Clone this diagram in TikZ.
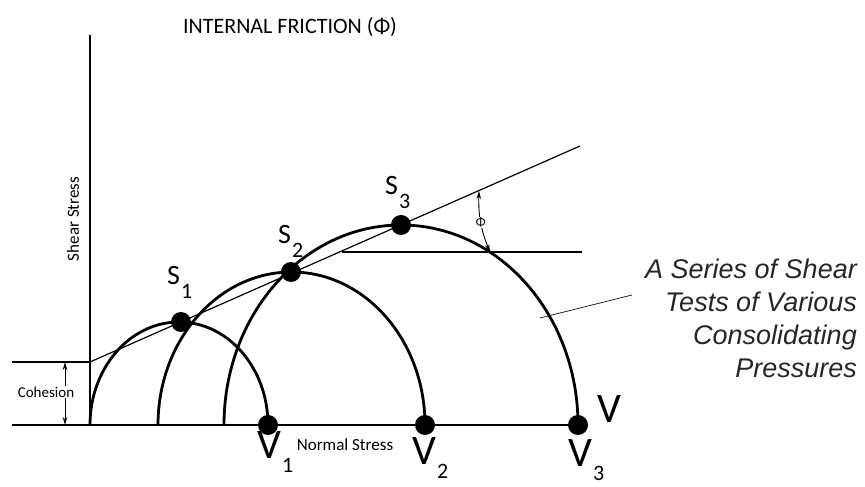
\documentclass[tikz,border=0pt]{standalone}
\usepackage{fontspec}
\setmainfont{Carlito}
\newfontfamily\notefont{Liberation Sans}
\usetikzlibrary{arrows.meta,calc}

\newcommand\sublbl[2]{#1\kern1pt\raisebox{-14pt}{\fontsize{22}{22}\selectfont #2}}

\tikzset{
    mohr/.style = {line width=2.8pt},
    axis/.style = {line width=1.1pt},
    dot/.style = {circle, fill, inner sep=0pt, minimum size=20pt},
    slbl/.style = {anchor=base west, inner sep=0pt, font=\fontsize{28}{28}\selectfont},
    vlbl/.style = {anchor=base west, inner sep=0pt, font=\fontsize{42}{42}\selectfont},
    small/.style = {inner sep=0.5pt, font=\fontsize{16}{16}\selectfont},
    dim/.style = {line width=0.9pt, {Stealth[length=8pt,width=4.5pt]}-{Stealth[length=8pt,width=4.5pt]}},
}

\begin{document}
\begin{tikzpicture}[x=1pt, y=1pt]
        \useasboundingbox (0,0) rectangle (865,487);
        \coordinate(O)at(90,62);
        \coordinate(T)at(90,452);
        \coordinate(L)at(12,62);
        \coordinate(E)at(580,62);
        \coordinate(C)at(90,125);
        \coordinate(CL)at(12,125);
        \coordinate(F)at(580,341);
        \coordinate(H1)at(342,235);
        \coordinate(H2)at(582,235);
        % axes
        \path[draw, axis](O)to(T);
        \path[draw, axis](L)to(E);
        \path[draw, axis](CL)to(C);
        % envelope
        \path[draw, line width=1.2pt](C)to(F);
        \path[draw, axis](H1)to(H2);
        % circles
        \draw[mohr] (268,62) arc[start angle=0, end angle=180, x radius=89, y radius=103];
        \draw[mohr] (425,62) arc[start angle=0, end angle=180, x radius=133.5, y radius=153];
        \draw[mohr] (578,62) arc[start angle=0, end angle=180, x radius=177, y radius=200];
        % dots
        \node[dot] (s1) at (181,165) {};
        \node[dot] (s2) at (291,215) {};
        \node[dot] (s3) at (401,262) {};
        \node[dot] (v1) at (268,62) {};
        \node[dot] (v2) at (425,62) {};
        \node[dot] (v3) at (578,62) {};
        \node[slbl] (s1l) at (167,202) {\sublbl{S}{1}};
        \node[slbl] (s2l) at (278,243) {\sublbl{S}{2}};
        \node[slbl] (s3l) at (385,292) {\sublbl{S}{3}};
        \node[vlbl] (v1l) at (257,28) {\sublbl{V}{1}};
        \node[vlbl] (v2l) at (412,22) {\sublbl{V}{2}};
        \node[vlbl] (v3l) at (568,20) {\sublbl{V}{3}};
        \node[vlbl] (vx) at (597,64) {V};
        % angle
        \coordinate(A1)at(479,296);
        \coordinate(A2)at(490,235);
        \path[draw, dim](A1)to[bend right=12]node[fill=white, inner sep=0.5pt, font=\fontsize{13}{13}\selectfont]{Φ}(A2);
        % cohesion
        \coordinate(K1)at(65,125);
        \coordinate(K2)at(65,62);
        \path[draw, dim](K1)to(K2);
        \node[small, fill=white, font=\fontsize{15}{15}\selectfont] (coh) at (46,95) {Cohesion};
        \node[small, font=\fontsize{17}{17}\selectfont] (nst) at (345,42) {Normal Stress};
        \node[small, rotate=90, font=\fontsize{17}{17}\selectfont] (sst) at (73,268) {Shear Stress};
        \node[font=\fontsize{22}{22}\selectfont] (tit) at (290,460) {INTERNAL FRICTION (Φ)};
        % note
        \node[anchor=north east, align=right, inner sep=0pt, text=black!85, font=\notefont\itshape\fontsize{27}{33}\selectfont] (note) at (857,228) {A Series of Shear\\Tests of Various\\Consolidating\\Pressures};
        \coordinate(N1)at(540,169);
        \coordinate(N2)at(632,192);
        \path[draw, line width=0.7pt](N1)to(N2);
\end{tikzpicture}
\end{document}
